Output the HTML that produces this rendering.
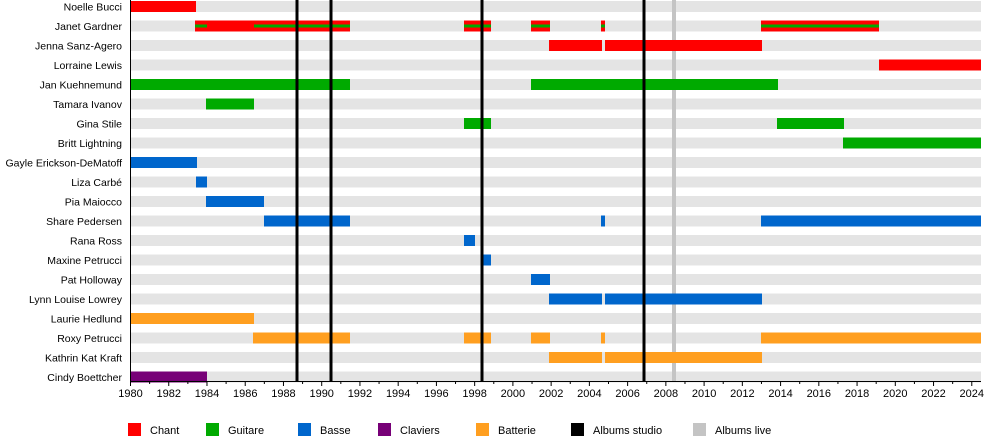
<!DOCTYPE html>
<html><head><meta charset="utf-8"><style>
body{margin:0;background:#fff;}
svg text{font-family:"Liberation Sans",sans-serif;font-size:11px;fill:#000;}
svg text.lbl{font-size:10.5px;}
</style></head><body>
<svg width="1000" height="440" xmlns="http://www.w3.org/2000/svg">
<g id="bg" fill="#e4e4e4"></g>
<g id="live"></g>
<g id="bars"></g>
<g id="lines"></g>
<g id="axis"></g>
<g id="legend"></g>
</svg>
<script>
const ns="http://www.w3.org/2000/svg";
function el(p,t,a,txt){const e=document.createElementNS(ns,t);for(const k in a)e.setAttribute(k,a[k]);if(txt!=null)e.textContent=txt;document.getElementById(p).appendChild(e);return e;}
const names=["Noelle Bucci","Janet Gardner","Jenna Sanz-Agero","Lorraine Lewis","Jan Kuehnemund","Tamara Ivanov","Gina Stile","Britt Lightning","Gayle Erickson-DeMatoff","Liza Carbé","Pia Maiocco","Share Pedersen","Rana Ross","Maxine Petrucci","Pat Holloway","Lynn Louise Lowrey","Laurie Hedlund","Roxy Petrucci","Kathrin Kat Kraft","Cindy Boettcher"];
const R="#ff0000",G="#00aa00",B="#0066cc",P="#770077",O="#ff9f20";
const data=[
[[130,196,R]],
[[195,350,R],[464,491,R],[531,550,R],[601,605,R],[761,879,R]],
[[549,602,R],[605,762,R]],
[[879,981,R]],
[[130,350,G],[531,778,G]],
[[206,254,G]],
[[464,491,G],[777,844,G]],
[[843,981,G]],
[[130,197,B]],
[[196,207,B]],
[[206,264,B]],
[[264,350,B],[601,605,B],[761,981,B]],
[[464,475,B]],
[[482,491,B]],
[[531,550,B]],
[[549,602,B],[605,762,B]],
[[130,254,O]],
[[253,350,O],[464,491,O],[531,550,O],[601,605,O],[761,981,O]],
[[549,602,O],[605,762,O]],
[[130,207,P]]];
const stripes=[[195,207],[254,350],[464,491],[531,550],[601,605],[761,879]];
names.forEach((n,i)=>{
 const y=1+i*19.5;
 el("bg","rect",{x:130,y:y,width:851,height:11});
 el("axis","text",{x:122,y:y+9.5,"text-anchor":"end","class":"lbl"},n);
 data[i].forEach(b=>el("bars","rect",{x:b[0],y:y,width:b[1]-b[0],height:11,fill:b[2]}));
 if(i==1)stripes.forEach(s=>el("bars","rect",{x:s[0],y:y+4,width:s[1]-s[0],height:3,fill:G}));
});
[297,331,482,644].forEach(x=>el("lines","rect",{x:x-1.5,y:0,width:3,height:381,fill:"#000"}));
el("live","rect",{x:672,y:0,width:4,height:381,fill:"#c4c4c4"});
el("axis","line",{x1:130.5,y1:0,x2:130.5,y2:381.5,stroke:"#000"});
el("axis","line",{x1:130,y1:381.5,x2:981,y2:381.5,stroke:"#000"});
const sx=19.12;
for(let yr=1980;yr<=2024;yr++){
 const x=130.5+(yr-1980)*sx;
 el("axis","line",{x1:x,y1:381,x2:x,y2:yr%2==0?386:384,stroke:"#000"});
 if(yr%2==0)el("axis","text",{x:x,y:397,"text-anchor":"middle"},yr);
}
const leg=[[128,R,"Chant"],[206,G,"Guitare"],[298,B,"Basse"],[378,P,"Claviers"],[476,O,"Batterie"],[571,"#000","Albums studio"],[693,"#c4c4c4","Albums live"]];
leg.forEach(l=>{el("legend","rect",{x:l[0],y:423,width:13,height:13,fill:l[1]});el("legend","text",{x:l[0]+22,y:434},l[2]);});
</script>
</body></html>
